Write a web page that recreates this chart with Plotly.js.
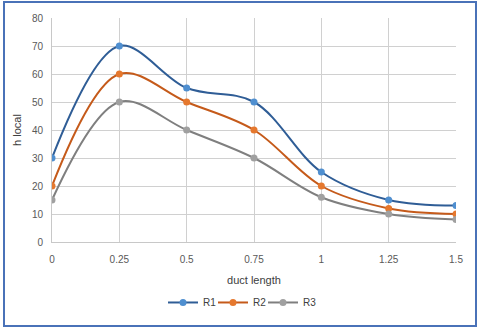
<!DOCTYPE html>
<html><head><meta charset="utf-8">
<script src="https://cdn.plot.ly/plotly-3.0.1.min.js"></script>
<style>
html,body{margin:0;padding:0;background:#fff;}
#wrap{position:relative;width:480px;height:329px;}
#chart{position:absolute;left:0;top:0;width:480px;height:329px;}
#frame{position:absolute;left:3px;top:1px;width:470px;height:322px;border:2px solid #4a72b8;pointer-events:none;}
</style></head>
<body>
<div id="wrap"><div id="chart"></div><div id="frame"></div></div>
<script>
const ductLength = [0, 0.25, 0.5, 0.75, 1, 1.25, 1.5];
const tickLabels = ["0", "0.25", "0.5", "0.75", "1", "1.25", "1.5"];
const seriesNames = ["R1", "R2", "R3"];
const r1 = [30, 70, 55, 50, 25, 15, 13];
const r2 = [20, 60, 50, 40, 20, 12, 10];
const r3 = [15, 50, 40, 30, 16, 10, 8];

const lineColors = ["#2f5d96", "#c55a1a", "#7f7f7f"];
const markerColors = ["#4f8fd0", "#e5782e", "#a0a0a0"];
const values = [r1, r2, r3];
const legendIds = ["legend", "legend2", "legend3"];
const legendX = [0.2748, 0.3985, 0.5223];

const traces = values.map((v, i) => ({
  x: ductLength, y: v, name: seriesNames[i], type: "scatter", mode: "lines+markers",
  legend: legendIds[i],
  line: {shape: "spline", smoothing: 1, color: lineColors[i], width: 2},
  marker: {color: markerColors[i], size: 7, line: {width: 0}}
}));

const font = {family: "Liberation Sans, Arial, sans-serif", size: 10, color: "#595959"};
const layout = {
  width: 480, height: 329,
  margin: {l: 52, r: 24, t: 18, b: 87},
  paper_bgcolor: "#fff", plot_bgcolor: "#fff",
  font: font,
  showlegend: true,
  xaxis: {range: [0, 1.5], tickvals: ductLength, ticktext: tickLabels, showgrid: true, gridcolor: "#d0d0d0",
          zeroline: false, showline: true, linecolor: "#c8c8c8", ticks: "outside", ticklen: 8, tickcolor: "rgba(0,0,0,0)",
          tickfont: font, title: {text: "duct length", font: {size: 11, color: "#404040"}, standoff: 12}},
  yaxis: {range: [0, 80], dtick: 10, showgrid: true, gridcolor: "#d0d0d0", zeroline: false,
          showline: true, linecolor: "#c8c8c8", ticks: "outside", ticklen: 6, tickcolor: "rgba(0,0,0,0)", tickfont: font,
          title: {text: "h local", font: {size: 11, color: "#404040"}, standoff: 8}}
};
legendIds.forEach((id, i) => {
  layout[id] = {orientation: "h", x: legendX[i], xanchor: "left", y: -0.27, yanchor: "middle",
                itemwidth: 30, bgcolor: "rgba(0,0,0,0)", font: {size: 10, color: "#404040"}};
});
Plotly.newPlot("chart", traces, layout, {staticPlot: true, displayModeBar: false});
</script>
</body></html>
